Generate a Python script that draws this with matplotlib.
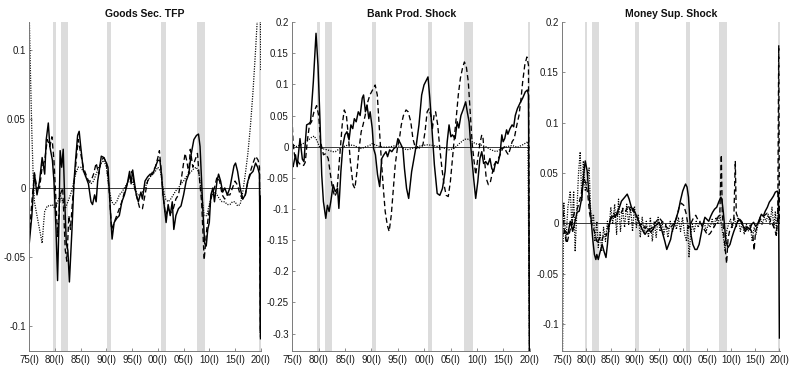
import matplotlib
matplotlib.use('Agg')
import matplotlib.pyplot as plt
from matplotlib.ticker import FuncFormatter

plt.rcParams['font.family'] = ['Liberation Sans Narrow', 'Liberation Sans', 'DejaVu Sans']
plt.rcParams['axes.unicode_minus'] = False

# ---------------- data ----------------
titles = ['Goods Sec. TFP', 'Bank Prod. Shock', 'Money Sup. Shock']
tick_labels = ['75(I)', '80(I)', '85(I)', '90(I)', '95(I)', '00(I)', '05(I)', '10(I)', '15(I)', '20(I)']
recessions = [(1980.0, 1980.5), (1981.5, 1982.9), (1990.5, 1991.2),
              (2001.0, 2001.85), (2007.9, 2009.5), (2020.0, 2020.4)]
ylims = [(-0.118, 0.12), (-0.328, 0.2), (-0.127, 0.2)]
yticks = [[-0.1, -0.05, 0, 0.05, 0.1],
          [-0.3, -0.25, -0.2, -0.15, -0.1, -0.05, 0, 0.05, 0.1, 0.15, 0.2],
          [-0.1, -0.05, 0, 0.05, 0.1, 0.15, 0.2]]

# Panel 1: Goods sector TFP
goods_solid_t = [1975.35, 1975.85, 1976.35, 1976.85, 1977.35, 1977.85, 1978.35, 1978.65, 1979.05, 1979.35,
                 1979.85, 1980.15, 1980.55, 1980.85, 1981.15, 1981.35, 1981.65, 1981.95, 1982.25, 1982.55,
                 1982.85, 1983.15, 1983.65, 1984.05, 1984.35, 1984.75, 1985.05, 1985.35, 1985.85, 1986.35,
                 1986.85, 1987.35, 1987.65, 1988.05, 1988.35, 1988.65, 1989.05, 1989.35, 1989.85, 1990.35,
                 1990.65, 1990.95, 1991.25, 1991.45, 1991.85, 1992.35, 1992.85, 1993.35, 1993.85, 1994.35,
                 1994.85, 1995.15, 1995.45, 1995.75, 1996.15, 1996.55, 1997.05, 1997.35, 1997.85, 1998.35,
                 1998.85, 1999.35, 1999.85, 2000.35, 2000.75, 2001.05, 2001.35, 2001.65, 2001.95, 2002.35,
                 2002.75, 2003.15, 2003.45, 2003.85, 2004.35, 2004.85, 2005.35, 2005.85, 2006.35, 2006.85,
                 2007.35, 2007.85, 2008.25, 2008.55, 2008.85, 2009.15, 2009.45, 2009.75, 2010.05, 2010.35,
                 2010.65, 2011.05, 2011.35, 2011.85, 2012.15, 2012.55, 2012.95, 2013.35, 2013.85, 2014.35,
                 2014.75, 2015.15, 2015.45, 2015.85, 2016.35, 2016.85, 2017.35, 2017.85, 2018.35, 2018.85,
                 2019.35, 2019.75, 2020.1, 2020.3, 2020.35]
goods_solid_v = [-0.04, -0.02, 0.011, -0.005, 0.005, 0.022, 0.01, 0.035, 0.047, 0.03,
                 0.02, 0.005, -0.03, -0.067, -0.02, 0.027, 0.015, 0.028, -0.01, -0.04,
                 -0.045, -0.068, -0.03, 0.005, 0.02, 0.038, 0.041, 0.03, 0.013, 0.008,
                 0.003, -0.01, -0.012, -0.005, -0.01, 0.005, 0.015, 0.023, 0.022, 0.018,
                 0.015, -0.005, -0.025, -0.037, -0.025, -0.022, -0.02, -0.01, -0.005, 0.002,
                 0.012, 0.003, 0.013, 0.005, -0.005, -0.01, -0.003, -0.008, 0.005, 0.008,
                 0.01, 0.01, 0.015, 0.02, 0.02, 0.01, -0.005, -0.015, -0.025, -0.012,
                 -0.02, -0.01, -0.03, -0.02, -0.015, -0.013, -0.005, 0.005, 0.01, 0.025,
                 0.035, 0.038, 0.039, 0.03, 0.005, -0.02, -0.04, -0.042, -0.03, -0.025,
                 -0.005, 0.0, -0.01, 0.005, 0.01, 0.005, -0.003, 0.0, -0.005, 0.0,
                 0.008, 0.016, 0.018, 0.012, 0.0, -0.008, -0.005, 0.005, 0.01, 0.012,
                 0.018, 0.015, 0.01, -0.105, -0.006]

goods_dash_t = [1975.35, 1975.85, 1976.35, 1976.85, 1977.35, 1977.85, 1978.35, 1978.85, 1979.35, 1979.75,
                1980.15, 1980.55, 1980.85, 1981.35, 1981.85, 1982.35, 1982.65, 1983.05, 1983.35, 1983.85,
                1984.35, 1984.85, 1985.35, 1985.85, 1986.35, 1986.85, 1987.35, 1987.85, 1988.35, 1988.85,
                1989.35, 1989.85, 1990.35, 1990.85, 1991.35, 1991.85, 1992.35, 1992.85, 1993.35, 1993.85,
                1994.35, 1994.85, 1995.35, 1995.85, 1996.35, 1996.85, 1997.35, 1997.85, 1998.35, 1998.85,
                1999.35, 1999.85, 2000.35, 2000.65, 2001.05, 2001.35, 2001.85, 2002.35, 2002.85, 2003.35,
                2003.85, 2004.35, 2004.85, 2005.35, 2005.65, 2006.05, 2006.35, 2006.65, 2007.15, 2007.55,
                2008.05, 2008.35, 2008.85, 2009.35, 2009.85, 2010.35, 2010.85, 2011.35, 2011.85, 2012.35,
                2012.85, 2013.35, 2013.85, 2014.35, 2014.85, 2015.35, 2015.85, 2016.35, 2016.85, 2017.35,
                2017.85, 2018.35, 2018.85, 2019.35, 2019.85, 2020.1, 2020.3, 2020.35]
goods_dash_v = [-0.035, -0.01, 0.01, 0.0, 0.0, 0.015, 0.02, 0.035, 0.03, 0.037,
                0.02, -0.01, -0.035, -0.005, 0.0, -0.045, -0.053, -0.02, -0.03, -0.005,
                0.015, 0.035, 0.025, 0.015, 0.01, 0.005, 0.005, 0.01, 0.018, 0.01,
                0.02, 0.022, 0.018, 0.0, -0.03, -0.025, -0.02, -0.015, -0.01, -0.003,
                0.003, 0.008, 0.012, 0.0, -0.008, -0.015, -0.015, -0.005, 0.005, 0.008,
                0.012, 0.015, 0.022, 0.027, 0.01, -0.005, -0.02, -0.015, -0.018, -0.015,
                -0.008, -0.005, 0.005, 0.018, 0.025, 0.018, 0.01, 0.028, 0.015, 0.02,
                0.025, 0.01, -0.01, -0.052, -0.03, -0.015, -0.005, 0.0, 0.008, 0.005,
                -0.005, -0.008, -0.005, -0.005, 0.0, 0.005, 0.002, -0.005, -0.008, -0.005,
                0.005, 0.012, 0.018, 0.023, 0.02, 0.015, -0.11, -0.01]

goods_dot_t = [1975.35, 1975.6, 1975.85, 1976.1, 1976.35, 1976.85, 1977.35, 1977.85, 1978.15, 1978.35,
               1978.85, 1979.35, 1979.85, 1980.35, 1980.85, 1981.35, 1981.85, 1982.35, 1982.85, 1983.35,
               1983.85, 1984.35, 1984.85, 1985.35, 1985.85, 1986.35, 1986.85, 1987.35, 1987.85, 1988.35,
               1988.85, 1989.35, 1989.85, 1990.35, 1990.85, 1991.35, 1991.85, 1992.35, 1992.85, 1993.35,
               1993.85, 1994.35, 1994.85, 1995.35, 1995.85, 1996.35, 1996.85, 1997.35, 1997.85, 1998.35,
               1998.85, 1999.35, 1999.85, 2000.35, 2000.85, 2001.35, 2001.85, 2002.35, 2002.85, 2003.35,
               2003.85, 2004.35, 2004.85, 2005.35, 2005.85, 2006.35, 2006.85, 2007.35, 2007.85, 2008.35,
               2008.85, 2009.35, 2009.85, 2010.35, 2010.85, 2011.35, 2011.85, 2012.35, 2012.85, 2013.35,
               2013.85, 2014.35, 2014.85, 2015.35, 2015.85, 2016.35, 2016.85, 2017.35, 2017.85, 2018.35,
               2018.85, 2019.35, 2019.65, 2020.0, 2020.3, 2020.35]
goods_dot_v = [0.125, 0.08, 0.04, 0.01, -0.01, -0.02, -0.03, -0.04, -0.025, -0.017,
               -0.013, -0.013, -0.012, -0.015, -0.01, -0.005, -0.01, -0.015, -0.01, -0.005,
               0.002, 0.01, 0.015, 0.015, 0.012, 0.008, 0.005, 0.003, 0.005, 0.01,
               0.015, 0.018, 0.02, 0.015, 0.0, -0.01, -0.012, -0.01, -0.005, -0.003,
               0.0, 0.003, 0.005, 0.005, 0.0, -0.005, -0.005, -0.003, 0.0, 0.005,
               0.008, 0.01, 0.012, 0.015, 0.012, 0.0, -0.008, -0.01, -0.008, -0.005,
               -0.002, 0.0, 0.003, 0.005, 0.008, 0.01, 0.012, 0.014, 0.015, 0.01,
               -0.005, -0.02, -0.02, -0.012, -0.005, -0.003, -0.005, -0.008, -0.01, -0.01,
               -0.012, -0.012, -0.01, -0.01, -0.013, -0.012, -0.003, 0.01, 0.025, 0.045,
               0.07, 0.1, 0.12, 0.125, 0.125, 0.085]

# Panel 2: Bank productivity shock
bank_solid_t = [1975.3, 1975.5, 1975.95, 1976.27, 1976.8, 1977.25, 1977.55, 1978.06, 1978.5, 1978.8,
                1979.33, 1979.84, 1980.22, 1980.6, 1980.92, 1981.24, 1981.69, 1982.0, 1982.32, 1982.64,
                1983.09, 1983.47, 1983.92, 1984.17, 1984.55, 1984.94, 1985.32, 1985.7, 1986.1, 1986.45,
                1986.8, 1987.1, 1987.45, 1987.85, 1988.2, 1988.6, 1988.85, 1989.2, 1989.5, 1989.85,
                1990.1, 1990.5, 1990.75, 1991.1, 1991.5, 1991.9, 1992.3, 1992.7, 1993.1, 1993.4,
                1993.8, 1994.2, 1994.6, 1995.05, 1995.35, 1995.85, 1996.3, 1996.6, 1997.0, 1997.4,
                1997.96, 1998.4, 1998.85, 1999.35, 1999.86, 2000.3, 2001.06, 2001.4, 2001.76, 2002.27,
                2002.8, 2003.3, 2003.8, 2004.3, 2004.7, 2005.05, 2005.4, 2005.7, 2006.2, 2006.6,
                2006.9, 2007.3, 2007.7, 2008.2, 2008.5, 2008.85, 2009.2, 2009.7, 2010.1, 2010.5,
                2010.9, 2011.25, 2011.6, 2012.0, 2012.4, 2012.8, 2013.15, 2013.5, 2013.9, 2014.3,
                2014.7, 2015.05, 2015.3, 2015.6, 2015.95, 2016.2, 2016.6, 2017.0, 2017.3, 2017.6,
                2018.0, 2018.5, 2019.0, 2019.5, 2019.9, 2020.1, 2020.3]
bank_solid_v = [-0.03, -0.032, -0.013, -0.032, 0.013, -0.02, -0.024, 0.035, 0.037, 0.04,
                0.104, 0.182, 0.13, 0.04, -0.045, -0.088, -0.115, -0.094, -0.104, -0.088,
                -0.061, -0.072, -0.067, -0.099, -0.04, 0.003, 0.019, 0.024, 0.011, 0.035,
                0.029, 0.045, 0.04, 0.056, 0.05, 0.078, 0.083, 0.056, 0.067, 0.045,
                0.056, 0.029, -0.003, -0.013, -0.045, -0.064, -0.019, -0.013, -0.008, -0.016,
                -0.005, -0.008, -0.003, 0.0, 0.013, 0.005, -0.003, -0.035, -0.067, -0.083,
                -0.04, -0.019, 0.003, 0.035, 0.083, 0.099, 0.112, 0.078, 0.035, -0.029,
                -0.075, -0.078, -0.067, -0.04, 0.008, 0.035, 0.016, 0.019, 0.013, 0.04,
                0.03, 0.05, 0.059, 0.072, 0.056, 0.04, -0.003, -0.05, -0.083, -0.056,
                -0.019, -0.008, -0.027, -0.024, -0.029, -0.019, -0.035, -0.04, -0.024, -0.027,
                -0.013, 0.019, 0.008, 0.013, 0.027, 0.02, 0.029, 0.035, 0.032, 0.05,
                0.061, 0.07, 0.078, 0.088, 0.091, 0.083, -0.34]

bank_dash_t = [1975.3, 1975.5, 1975.8, 1976.5, 1977.0, 1977.5, 1977.8, 1978.2, 1978.6, 1979.0,
               1979.45, 1979.95, 1980.35, 1980.7, 1981.25, 1981.7, 1982.15, 1982.5, 1982.95, 1983.4,
               1983.8, 1984.05, 1984.45, 1984.8, 1985.2, 1985.6, 1985.95, 1986.35, 1986.85, 1987.2,
               1987.6, 1988.0, 1988.4, 1988.75, 1989.15, 1989.65, 1990.05, 1990.55, 1991.05, 1991.45,
               1991.8, 1992.2, 1992.6, 1992.95, 1993.35, 1993.7, 1994.1, 1994.5, 1994.85, 1995.25,
               1995.65, 1996.0, 1996.4, 1996.9, 1997.3, 1997.8, 1998.2, 1998.7, 1999.2, 1999.7,
               2000.1, 2000.5, 2000.9, 2001.25, 2001.6, 2001.9, 2002.2, 2002.5, 2002.9, 2003.3,
               2003.7, 2004.1, 2004.5, 2004.9, 2005.3, 2005.7, 2006.1, 2006.45, 2006.8, 2007.2,
               2007.6, 2007.95, 2008.3, 2008.7, 2009.1, 2009.45, 2009.8, 2010.1, 2010.5, 2010.9,
               2011.25, 2011.5, 2011.75, 2012.1, 2012.5, 2012.9, 2013.3, 2013.6, 2014.0, 2014.4,
               2014.8, 2015.2, 2015.55, 2015.9, 2016.3, 2016.65, 2017.0, 2017.4, 2017.9, 2018.3,
               2018.7, 2019.0, 2019.4, 2019.8, 2020.1, 2020.3]
bank_dash_v = [0.045, 0.005, -0.015, -0.025, -0.03, -0.03, -0.025, 0.01, 0.035, 0.04,
               0.056, 0.066, 0.05, 0.008, -0.013, -0.011, -0.019, -0.04, -0.067, -0.08,
               -0.072, -0.045, -0.003, 0.035, 0.059, 0.05, 0.019, -0.024, -0.061, -0.067,
               -0.04, -0.003, 0.024, 0.035, 0.05, 0.072, 0.083, 0.091, 0.099, 0.083,
               0.035, -0.019, -0.067, -0.104, -0.126, -0.136, -0.11, -0.067, -0.029, -0.003,
               0.013, 0.035, 0.05, 0.059, 0.056, 0.04, 0.013, -0.003, -0.001, -0.003,
               0.003, 0.024, 0.056, 0.061, 0.05, 0.029, 0.05, 0.056, 0.035, -0.003,
               -0.035, -0.061, -0.078, -0.08, -0.056, -0.019, 0.019, 0.05, 0.083, 0.11,
               0.126, 0.136, 0.13, 0.104, 0.05, 0.003, -0.024, -0.045, -0.019, 0.005,
               0.019, 0.013, -0.019, -0.051, -0.061, -0.056, -0.04, -0.029, -0.024, -0.019,
               -0.011, -0.003, 0.0, -0.008, -0.013, -0.003, 0.008, 0.013, 0.035, 0.05,
               0.078, 0.104, 0.131, 0.144, 0.131, -0.34]

bank_dot_t = [1975.3, 1976.0, 1977.0, 1978.0, 1979.0, 1979.5, 1980.0, 1980.5, 1981.0, 1982.0,
              1983.0, 1983.5, 1984.0, 1985.0, 1986.0, 1987.0, 1988.0, 1988.5, 1989.0, 1990.0,
              1990.5, 1991.0, 1992.0, 1993.0, 1994.0, 1995.0, 1996.0, 1997.0, 1998.0, 1999.0,
              2000.0, 2001.0, 2002.0, 2003.0, 2004.0, 2005.0, 2006.0, 2007.0, 2008.0, 2008.8,
              2009.5, 2010.0, 2011.0, 2012.0, 2013.0, 2014.0, 2015.0, 2016.0, 2017.0, 2018.0,
              2019.0, 2020.0, 2020.3]
bank_dot_v = [0.005, 0.0, 0.003, 0.008, 0.015, 0.017, 0.01, 0.0, -0.003, -0.005,
              -0.008, -0.008, -0.005, 0.0, 0.003, 0.002, -0.002, -0.003, -0.001, 0.002,
              0.005, 0.003, 0.0, -0.001, 0.0, 0.002, 0.0, -0.005, -0.003, 0.0,
              0.002, 0.003, 0.002, 0.0, -0.002, -0.005, -0.003, 0.005, 0.012, 0.012,
              0.008, 0.005, 0.003, 0.0, -0.005, -0.008, -0.003, 0.0, 0.002, -0.001,
              0.003, 0.008, -0.34]

# Panel 3: Money supply shock
money_solid_t = [1975.4, 1976.0, 1976.5, 1977.0, 1977.5, 1977.9, 1978.4, 1978.85, 1979.4, 1979.8,
                 1980.1, 1980.5, 1980.75, 1981.1, 1981.4, 1981.7, 1982.0, 1982.3, 1982.5, 1982.8,
                 1983.2, 1983.6, 1984.0, 1984.4, 1984.7, 1985.0, 1985.4, 1985.9, 1986.3, 1986.8,
                 1987.2, 1987.6, 1988.3, 1988.8, 1989.2, 1989.6, 1990.0, 1990.4, 1990.85, 1991.25,
                 1991.7, 1992.1, 1992.5, 1992.9, 1993.3, 1993.7, 1994.1, 1994.5, 1995.0, 1995.4,
                 1995.8, 1996.2, 1996.6, 1997.0, 1997.4, 1997.8, 1998.1, 1998.6, 1999.0, 1999.4,
                 1999.8, 2000.3, 2000.7, 2000.9, 2001.2, 2001.5, 2001.75, 2002.0, 2002.4, 2002.85,
                 2003.25, 2003.7, 2004.1, 2004.5, 2004.9, 2005.3, 2005.7, 2006.1, 2006.5, 2006.9,
                 2007.35, 2007.75, 2008.2, 2008.4, 2008.7, 2009.0, 2009.25, 2009.7, 2010.1, 2010.5,
                 2010.9, 2011.3, 2011.7, 2012.1, 2012.5, 2012.9, 2013.3, 2013.75, 2014.2, 2014.6,
                 2015.0, 2015.4, 2015.8, 2016.2, 2016.6, 2017.0, 2017.4, 2017.85, 2018.25, 2018.7,
                 2019.1, 2019.5, 2019.9, 2020.15, 2020.35]
money_solid_v = [-0.011, -0.008, -0.011, 0.002, -0.008, 0.0, 0.011, 0.012, 0.026, 0.049,
                 0.062, 0.052, 0.036, 0.016, -0.001, -0.018, -0.031, -0.036, -0.031, -0.036,
                 -0.028, -0.021, -0.028, -0.034, -0.021, -0.004, 0.006, 0.007, 0.006, 0.012,
                 0.016, 0.022, 0.026, 0.029, 0.024, 0.017, 0.012, 0.011, 0.006, 0.001,
                 -0.004, -0.008, -0.011, -0.008, -0.006, -0.009, -0.006, -0.003, -0.001, 0.001,
                 -0.004, -0.011, -0.018, -0.026, -0.021, -0.016, -0.008, -0.001, 0.006, 0.012,
                 0.022, 0.032, 0.037, 0.039, 0.036, 0.026, 0.006, -0.011, -0.021, -0.026,
                 -0.026, -0.021, -0.011, -0.001, 0.006, 0.004, 0.002, 0.007, 0.011, 0.014,
                 0.016, 0.021, 0.026, 0.024, 0.012, -0.004, -0.018, -0.024, -0.021, -0.014,
                 -0.008, -0.003, 0.002, 0.004, 0.002, -0.004, -0.008, -0.004, -0.006, -0.001,
                 0.001, -0.003, -0.001, 0.004, 0.009, 0.007, 0.012, 0.016, 0.021, 0.024,
                 0.027, 0.031, 0.032, 0.029, -0.114]

money_dash_t = [1975.4, 1975.8, 1976.3, 1976.8, 1977.3, 1977.8, 1978.3, 1978.8, 1979.3, 1979.8,
                1980.2, 1980.6, 1981.0, 1981.4, 1981.8, 1982.2, 1982.6, 1983.0, 1983.5, 1984.0,
                1984.5, 1985.0, 1985.5, 1986.0, 1986.5, 1987.0, 1987.5, 1988.0, 1988.5, 1989.0,
                1989.5, 1990.0, 1990.5, 1991.0, 1991.5, 1992.0, 1992.5, 1993.0, 1993.5, 1994.0,
                1994.5, 1995.0, 1995.5, 1996.0, 1996.5, 1997.0, 1997.5, 1998.0, 1998.5, 1999.0,
                1999.5, 2000.0, 2000.5, 2001.0, 2001.5, 2002.0, 2002.5, 2003.0, 2003.5, 2004.0,
                2004.5, 2005.0, 2005.5, 2006.0, 2006.5, 2007.0, 2007.5, 2008.0, 2008.3, 2008.5,
                2008.8, 2009.1, 2009.4, 2009.7, 2010.0, 2010.5, 2010.9, 2011.2, 2011.4, 2011.8,
                2012.3, 2012.8, 2013.3, 2013.8, 2014.3, 2014.8, 2015.1, 2015.4, 2015.8, 2016.3,
                2016.8, 2017.3, 2017.8, 2018.3, 2018.8, 2019.3, 2019.7, 2020.0, 2020.2, 2020.35]
money_dash_v = [0.02, -0.01, -0.02, -0.01, 0.0, 0.01, 0.012, 0.02, 0.03, 0.045,
                0.04, 0.03, 0.01, 0.0, -0.005, -0.012, -0.02, -0.015, -0.018, -0.01,
                -0.012, 0.0, 0.005, 0.01, 0.005, 0.012, 0.01, 0.015, 0.012, 0.018,
                0.012, 0.015, 0.008, 0.005, -0.002, 0.0, -0.005, -0.003, -0.006, -0.004,
                0.0, 0.003, 0.005, 0.002, 0.0, -0.004, -0.006, -0.003, 0.0, 0.005,
                0.015, 0.02, 0.018, 0.01, -0.005, 0.0, 0.005, 0.008, 0.003, 0.0,
                -0.004, -0.008, -0.012, -0.01, -0.006, -0.002, 0.005, 0.01, 0.068, 0.01,
                -0.01, -0.025, -0.04, -0.015, -0.008, -0.003, 0.005, 0.062, 0.01, 0.005,
                0.002, -0.003, -0.005, -0.003, -0.006, -0.01, -0.027, -0.008, -0.002, 0.003,
                0.006, 0.008, 0.01, 0.005, 0.0, -0.005, -0.012, 0.005, 0.177, 0.0]

money_dot_t = [1975.4, 1975.5, 1975.65, 1976.1, 1976.5, 1977.0, 1977.35, 1977.7, 1978.0, 1978.4,
               1978.7, 1979.05, 1979.4, 1979.7, 1980.1, 1980.5, 1980.9, 1981.2, 1981.4, 1981.8,
               1982.1, 1982.5, 1982.8, 1983.2, 1983.5, 1983.9, 1984.3, 1984.7, 1985.0, 1985.4,
               1985.8, 1986.2, 1986.6, 1987.0, 1987.4, 1987.85, 1988.25, 1988.7, 1989.1, 1989.5,
               1989.9, 1990.3, 1990.7, 1991.1, 1991.5, 1991.9, 1992.35, 1992.75, 1993.2, 1993.6,
               1994.0, 1994.4, 1994.8, 1995.2, 1995.6, 1996.0, 1996.4, 1996.8, 1997.25, 1997.7,
               1998.2, 1998.6, 1999.0, 1999.4, 1999.85, 2000.25, 2000.7, 2001.1, 2001.35, 2001.6,
               2001.9, 2002.3, 2002.7, 2003.1, 2003.5, 2003.9, 2004.35, 2004.75, 2005.15, 2005.6,
               2006.0, 2006.4, 2006.8, 2007.2, 2007.6, 2008.0, 2008.4, 2008.85, 2009.1, 2009.4,
               2009.8, 2010.2, 2010.6, 2011.0, 2011.4, 2011.8, 2012.25, 2012.65, 2013.05, 2013.5,
               2013.9, 2014.3, 2014.7, 2015.1, 2015.5, 2015.9, 2016.35, 2016.75, 2017.2, 2017.6,
               2018.0, 2018.4, 2018.8, 2019.2, 2019.5, 2019.75, 2020.0, 2020.35]
money_dot_v = [-0.13, -0.06, 0.021, -0.018, 0.016, 0.032, -0.004, 0.032, -0.028, 0.016,
               0.049, 0.071, 0.022, 0.062, 0.032, 0.042, 0.055, 0.016, -0.001, 0.009,
               -0.018, 0.002, -0.024, -0.008, -0.028, -0.004, -0.018, 0.002, -0.008, 0.016,
               -0.001, 0.019, -0.011, 0.024, -0.008, 0.016, -0.004, 0.019, -0.001, 0.016,
               -0.008, 0.017, -0.004, 0.009, -0.014, 0.006, -0.011, 0.002, -0.014, 0.006,
               -0.018, 0.002, -0.014, 0.006, -0.008, 0.002, -0.011, -0.001, -0.014, 0.002,
               -0.008, 0.002, -0.006, 0.006, -0.008, 0.006, -0.011, -0.018, -0.001, -0.034,
               -0.014, -0.001, -0.008, 0.002, -0.004, 0.002, -0.004, 0.002, -0.008, -0.001,
               -0.004, 0.004, -0.003, 0.006, -0.001, 0.009, -0.004, -0.018, -0.028, -0.008,
               -0.001, 0.004, -0.004, 0.006, -0.004, 0.006, -0.008, 0.001, -0.011, -0.001,
               -0.008, -0.001, -0.018, -0.004, -0.011, -0.001, 0.006, -0.001, 0.006, 0.002,
               0.009, -0.001, 0.016, -0.004, 0.012, -0.011, 0.016, 0.0]

panels = [
    [(goods_solid_t, goods_solid_v), (goods_dash_t, goods_dash_v), (goods_dot_t, goods_dot_v)],
    [(bank_solid_t, bank_solid_v), (bank_dash_t, bank_dash_v), (bank_dot_t, bank_dot_v)],
    [(money_solid_t, money_solid_v), (money_dash_t, money_dash_v), (money_dot_t, money_dot_v)],
]

# ---------------- layout / style ----------------
X_START, X_END = 1975.35, 2020.4
tick_pos = [X_START + 5 * i for i in range(len(tick_labels))]
axes_rects = [(0.0371, 0.046, 0.2937, 0.894),
              (0.3705, 0.046, 0.3013, 0.894),
              (0.7127, 0.046, 0.2755, 0.894)]
styles = [dict(ls='-', lw=1.05),
          dict(ls=(0, (4.0, 2.4)), lw=0.95),
          dict(ls=(0, (0.9, 1.1)), lw=0.9)]

fig = plt.figure(figsize=(7.89, 3.68), dpi=100)
for k in range(3):
    ax = fig.add_axes(axes_rects[k])
    for (a, b) in recessions:
        ax.axvspan(a, b, color='#dcdcdc', lw=0, zorder=0)
    ax.axhline(0, color='#3a3a3a', lw=0.7, zorder=1)
    for (t, v), st in zip(panels[k], styles):
        ax.plot(t, v, color='black', zorder=2, **st)
    ax.set_xlim(X_START, X_END)
    ax.set_ylim(*ylims[k])
    ax.set_yticks(yticks[k])
    ax.yaxis.set_major_formatter(FuncFormatter(lambda y, p: '%g' % round(y, 3)))
    ax.set_xticks(tick_pos)
    ax.set_xticklabels(tick_labels)
    for s in ['top', 'right']:
        ax.spines[s].set_visible(False)
    for s in ['left', 'bottom']:
        ax.spines[s].set_color('#7a7a7a')
        ax.spines[s].set_linewidth(0.7)
    ax.tick_params(direction='in', length=2.5, width=0.6, color='#7a7a7a',
                   labelsize=7, labelcolor='#1a1a1a', pad=2.5)
    ax.set_title(titles[k], fontsize=7.5, fontweight='bold', pad=4, color='#111111')

fig.savefig('out.png', dpi=100)
